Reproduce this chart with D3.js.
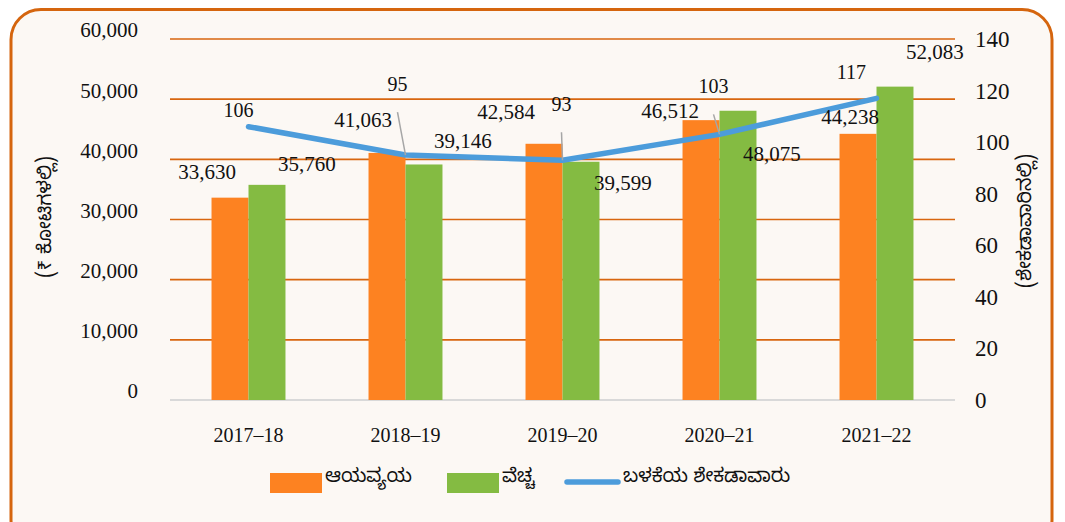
<!DOCTYPE html>
<html><head><meta charset="utf-8">
<script src="https://cdn.jsdelivr.net/npm/d3@7"></script>
<style>
html,body{margin:0;padding:0;background:#fff;}
svg text{font-family:"Liberation Serif","Times New Roman",serif;fill:#111;}
.kn{font-family:"Noto Sans Kannada","Noto Sans","Liberation Serif",serif;}
</style></head>
<body>
<svg id="c" width="1065" height="522"></svg>
<script>
// ---- data ----
const categories = ["2017\u201318","2018\u201319","2019\u201320","2020\u201321","2021\u201322"];
const budget      = [33630, 41063, 42584, 46512, 44238];   // ಆಯವ್ಯಯ
const expenditure = [35760, 39146, 39599, 48075, 52083];   // ವೆಚ್ಚ
const utilisation = [106, 95, 93, 103, 117];               // ಬಳಕೆಯ ಶೇಕಡಾವಾರು
const leftTicks  = [0,10000,20000,30000,40000,50000,60000];
const rightTicks = [0,20,40,60,80,100,120,140];
const seriesNames = ["ಆಯವ್ಯಯ","ವೆಚ್ಚ","ಬಳಕೆಯ ಶೇಕಡಾವಾರು"];
const leftTitle = "(₹ ಕೋಟಿಗಳಲ್ಲಿ)";
const rightTitle = "(ಶೇಕಡಾವಾರಿನಲ್ಲಿ)";

// ---- label placement nudges (layout, not data) ----
const budgetNudge = [[-23,-26],[-24,-33],[-38,-32],[-31,-10],[-8,-17]];
const expNudge    = [[40,-21],[39,-24],[42,21],[34,43],[40,-35]];
const lineNudge   = [[-10,-17],[-8,-71],[-1,-56],[-6,-48],[-25,-26]];

const svg = d3.select("#c");
const C = {orange:"#FD8221", green:"#84BB42", blue:"#4C9CDB", grid:"#D8660F", border:"#D5650E", bg:"#FCF8F4"};

svg.append("rect").attr("x",11).attr("y",9.5).attr("width",1041).attr("height",540)
  .attr("rx",30).attr("ry",30).attr("fill",C.bg).attr("stroke",C.border).attr("stroke-width",3);

const L=170,R=955,T=39,B=400;
const x0 = d3.scaleBand().domain(categories).range([L,R]).paddingInner(0.529).paddingOuter(0.2645);
const x1 = d3.scaleBand().domain(["b","e"]).range([0,x0.bandwidth()]);
const yL = d3.scaleLinear().domain([0,60000]).range([B,T]);
const yR = d3.scaleLinear().domain([0,140]).range([B,T]);

// gridlines
svg.append("g").selectAll("line").data(leftTicks).join("line")
  .attr("x1",L).attr("x2",R).attr("y1",d=>yL(d)).attr("y2",d=>yL(d))
  .attr("stroke",d=>d===0?"#D9D9D9":C.grid).attr("stroke-width",d=>d===0?2:1.6);

// left axis labels
const fmt = d3.format(",");
svg.append("g").selectAll("text").data(leftTicks).join("text")
  .attr("x",138).attr("y",d=>yL(d)-9).attr("dy","0.35em").attr("text-anchor","end")
  .style("font-size","21px").text(d=>fmt(d));
// right axis labels
svg.append("g").selectAll("text").data(rightTicks).join("text")
  .attr("x",975).attr("y",d=>yR(d)).attr("dy","0.35em").attr("text-anchor","start")
  .style("font-size","23px").text(d=>d);

// x labels
svg.append("g").selectAll("text").data(categories).join("text")
  .attr("x",d=>x0(d)+x0.bandwidth()/2).attr("y",435).attr("dy","0.35em").attr("text-anchor","middle")
  .style("font-size","20px").text(d=>d);

// axis titles
svg.append("text").attr("class","kn").attr("transform","translate(44,217) rotate(-90)")
  .attr("text-anchor","middle").attr("dy","0.35em").style("font-size","19px").text(leftTitle);
svg.append("text").attr("class","kn").attr("transform","translate(1024,221) rotate(-90)")
  .attr("text-anchor","middle").attr("dy","0.35em").style("font-size","19px").text(rightTitle);

// bars
const gb = svg.append("g");
gb.selectAll(".b").data(budget).join("rect").attr("class","b")
  .attr("x",(d,i)=>x0(categories[i])+x1("b")).attr("width",x1.bandwidth())
  .attr("y",d=>yL(d)).attr("height",d=>B-yL(d)).attr("fill",C.orange);
gb.selectAll(".e").data(expenditure).join("rect").attr("class","e")
  .attr("x",(d,i)=>x0(categories[i])+x1("e")).attr("width",x1.bandwidth())
  .attr("y",d=>yL(d)).attr("height",d=>B-yL(d)).attr("fill",C.green);

// line
const cx = i=>x0(categories[i])+x0.bandwidth()/2;
const line = d3.line().x((d,i)=>cx(i)).y(d=>yR(d));
svg.append("path").datum(utilisation).attr("d",line).attr("fill","none")
  .attr("stroke",C.blue).attr("stroke-width",5.5).attr("stroke-linecap","round").attr("stroke-linejoin","round");

// leader lines
utilisation.forEach((d,i)=>{
  const [dx,dy]=lineNudge[i];
  if(Math.abs(dy)>40){
    svg.append("line").attr("x1",cx(i)+dx).attr("y1",yR(d)+dy+28).attr("x2",cx(i)).attr("y2",yR(d))
      .attr("stroke","#A6A6A6").attr("stroke-width",1.5);
  }
});

// data labels
const lab = svg.append("g").style("font-size","21px");
budget.forEach((d,i)=>{
  lab.append("text").attr("x",x0(categories[i])+x1("b")+x1.bandwidth()/2+budgetNudge[i][0])
    .attr("y",yL(d)+budgetNudge[i][1]).attr("dy","0.35em").attr("text-anchor","middle").text(fmt(d));
});
expenditure.forEach((d,i)=>{
  lab.append("text").attr("x",x0(categories[i])+x1("e")+x1.bandwidth()/2+expNudge[i][0])
    .attr("y",yL(d)+expNudge[i][1]).attr("dy","0.35em").attr("text-anchor","middle").text(fmt(d));
});
utilisation.forEach((d,i)=>{
  lab.append("text").attr("x",cx(i)+lineNudge[i][0]).attr("y",yR(d)+lineNudge[i][1])
    .attr("dy","0.35em").attr("text-anchor","middle").style("font-size","20px").text(d);
});

// legend
const lg = svg.append("g");
lg.append("rect").attr("x",270).attr("y",473).attr("width",52).attr("height",20).attr("fill",C.orange);
lg.append("text").attr("class","kn").attr("x",325).attr("y",475).attr("dy","0.35em").style("font-size","19px").text(seriesNames[0]);
lg.append("rect").attr("x",447).attr("y",473).attr("width",52).attr("height",20).attr("fill",C.green);
lg.append("text").attr("class","kn").attr("x",502).attr("y",475).attr("dy","0.35em").style("font-size","19px").text(seriesNames[1]);
lg.append("line").attr("x1",567).attr("x2",618).attr("y1",482).attr("y2",482).attr("stroke",C.blue)
  .attr("stroke-width",5.5).attr("stroke-linecap","round");
lg.append("text").attr("class","kn").attr("x",623).attr("y",475).attr("dy","0.35em").style("font-size","19px").text(seriesNames[2]);
</script>
</body></html>
